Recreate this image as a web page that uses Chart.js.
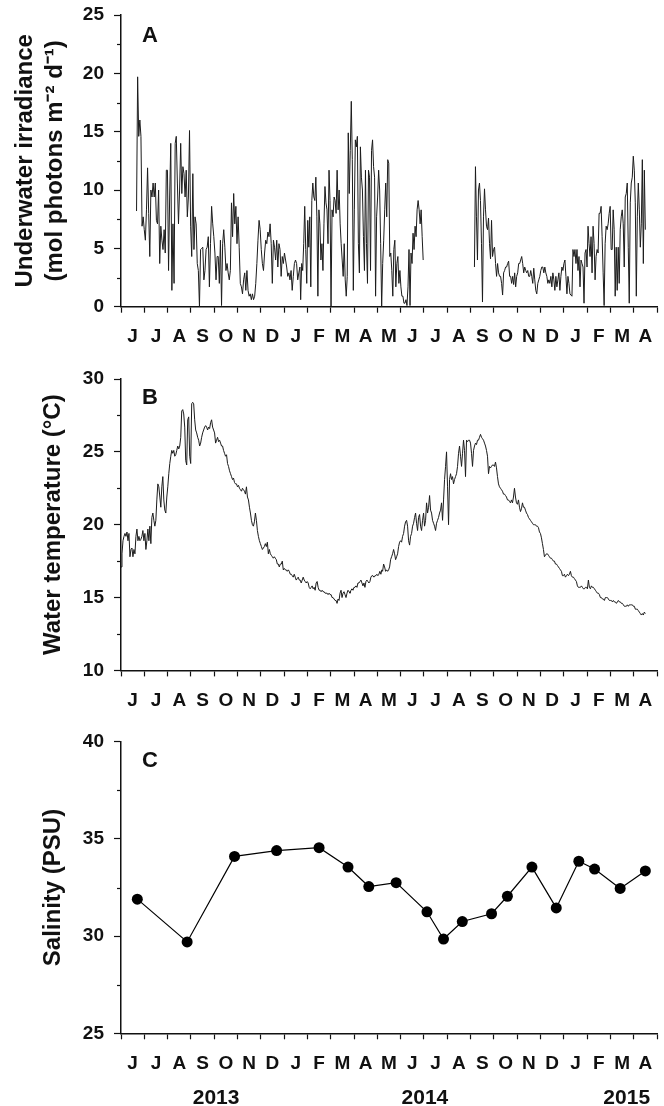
<!DOCTYPE html>
<html>
<head>
<meta charset="utf-8">
<title>Irradiance, temperature and salinity</title>
<script src="https://cdn.jsdelivr.net/npm/chart.js@4/dist/chart.umd.min.js"></script>
<style>
  body { margin: 0; background: #fff; }
  #wrap { position: relative; width: 664px; height: 1106px; }
  .panel { position: absolute; left: 0; width: 664px; }
</style>
</head>
<body>
<div id="wrap">
  <div class="panel" style="top:0;height:364px"><canvas id="chartA"></canvas></div>
  <div class="panel" style="top:364px;height:364px"><canvas id="chartB"></canvas></div>
  <div class="panel" style="top:727px;height:379px"><canvas id="chartC"></canvas></div>
</div>
<script>
// month axis: June 2013 .. April 2015
const monthLetters = ['J','J','A','S','O','N','D','J','F','M','A','M','J','J','A','S','O','N','D','J','F','M','A'];
const years = ['2013', '2014', '2015'];

// A - underwater irradiance (mol photons m-2 d-1)
const irrSpan1 = ['2013-06-21', '2014-01-22'];
const irr1 = [
  8.2, 19.7, 14.6, 16.0, 14.6, 6.9, 7.7, 6.6, 5.7, 8.3,
  11.9, 8.0, 4.3, 10.0, 9.4, 10.6, 9.4, 10.6, 7.4, 7.1,
  10.0, 3.7, 6.9, 5.7, 4.9, 6.6, 4.6, 11.7, 11.7, 3.1,
  9.4, 14.0, 1.4, 7.1, 2.0, 14.0, 14.6, 10.6, 7.1, 10.0,
  14.0, 9.7, 12.0, 11.4, 9.4, 11.7, 7.7, 9.4, 15.1, 6.9,
  4.3, 11.4, 4.9, 7.7, 7.1, 3.7, 3.1, 0, 4.9, 5.0,
  5.1, 2.3, 3.1, 4.9, 5.1, 6.0, 1.7, 5.4, 8.6, 7.1,
  6.0, 4.6, 2.3, 4.3, 4.3, 2.0, 5.7, 0.1, 5.4, 6.6,
  5.1, 3.1, 3.7, 2.9, 2.3, 3.1, 8.9, 6.0, 9.7, 7.1,
  8.6, 5.4, 7.7, 5.1, 2.0, 1.7, 1.1, 2.3, 2.9, 1.4,
  3.1, 1.4, 0.9, 1.1, 0.6, 1.1, 0.6, 0.9, 2.0, 3.7,
  5.7, 7.4, 6.6, 4.9, 3.7, 3.1, 4.6, 5.7, 5.4, 6.4,
  6.0, 7.1, 5.4, 2.0, 5.7, 5.1, 4.0, 5.7, 3.4, 5.4,
  4.9, 2.6, 4.3, 3.7, 4.6, 4.0, 3.4, 2.6, 2.9, 2.3,
  3.1, 1.4, 2.6, 3.7, 4.0, 3.7, 2.3, 2.9, 3.4
];
const irrSpan2 = ['2014-01-23', '2014-06-30'];
const irr2 = [
  0.6, 3.7, 3.1, 5.4, 8.6, 4.9, 2.0, 7.4, 5.1, 7.7,
  1.7, 9.1, 10.6, 9.4, 9.1, 11.1, 7.7, 0.9, 8.3, 7.1,
  4.0, 5.4, 3.1, 7.1, 10.3, 8.9, 8.3, 5.4, 11.7, 9.1,
  0, 8.3, 7.7, 9.4, 9.1, 8.0, 11.7, 8.3, 10.0, 7.1,
  5.4, 4.0, 2.6, 5.4, 2.3, 0.9, 2.6, 14.9, 9.7, 13.4,
  17.6, 12.6, 1.4, 8.3, 14.3, 13.7, 14.6, 5.4, 2.9, 13.7,
  11.1, 10.0, 6.0, 3.1, 11.7, 5.4, 2.0, 11.7, 11.1, 3.1,
  13.4, 14.3, 12.0, 11.1, 0.9, 7.7, 9.4, 11.7, 10.0, 5.4,
  0, 3.7, 5.7, 8.3, 10.6, 7.7, 12.6, 12.3, 4.3, 4.6,
  3.1, 0.9, 4.9, 5.7, 1.7, 3.7, 4.3, 2.0, 3.1, 1.7,
  0.9, 0.9, 0.3, 0.3, 0.6, 0.1, 1.7, 4.9, 0.1, 4.6,
  3.7, 6.3, 4.9, 6.9, 6.0, 8.3, 9.1, 8.3, 7.1, 8.3,
  6.0, 4.0
];
const irrSpan3 = ['2014-09-06', '2015-04-16'];
const irr3 = [
  3.4, 12.0, 7.7, 4.0, 10.0, 10.6,
  9.1, 5.4, 0.4, 7.7, 10.1, 8.3, 6.9, 6.6, 7.6, 5.4,
  4.1, 7.4, 4.3, 4.9, 5.1, 3.7, 2.6, 3.7, 2.9, 2.6,
  2.6, 2.0, 1.0, 2.9, 3.1, 3.4, 3.4, 3.7, 3.9, 2.6,
  2.6, 2.0, 2.6, 1.9, 2.9, 1.7, 2.6, 2.9, 3.7, 3.7,
  4.0, 4.3, 3.7, 2.9, 3.4, 3.1, 2.9, 3.1, 2.6, 2.6,
  3.1, 2.6, 2.0, 3.3, 2.3, 1.4, 1.1, 2.0, 2.3, 2.6,
  3.1, 3.4, 3.4, 2.9, 3.4, 2.9, 2.6, 2.0, 2.3, 2.0,
  2.6, 1.7, 2.9, 2.3, 1.4, 2.6, 1.7, 2.3, 2.9, 1.4,
  2.6, 3.4, 3.1, 3.7, 4.0, 2.6, 1.1, 2.6, 2.0, 1.1,
  1.0, 0.9, 4.9, 4.3, 4.9, 3.7, 4.9, 3.1, 4.3, 1.7,
  4.0, 3.7, 3.4, 0.3, 4.6, 4.9, 3.4, 6.9, 5.4, 4.3,
  6.0, 2.9, 6.9, 5.4, 2.3, 4.3, 4.9, 4.6, 8.0, 8.0,
  8.6, 6.0, 2.9, 0.1, 5.4, 6.9, 6.6, 7.1, 8.0, 8.6,
  4.9, 4.9, 8.3, 6.6, 0.9, 5.1, 1.4, 5.1, 2.0, 6.6,
  7.7, 8.3, 7.1, 3.4, 9.4, 9.7, 10.6, 5.1, 0.3, 8.9,
  10.6, 11.1, 12.9, 11.7, 8.9, 0.9, 7.7, 10.6, 8.3, 5.1,
  7.1, 12.6, 3.7, 11.7, 6.6
];

// B - water temperature (°C)
const tempSpan1 = ['2013-06-01', '2014-05-07'];
const temp1 = [
  17.1, 18.0, 18.9, 19.2, 19.4, 19.2, 19.5, 18.9, 19.4, 17.8,
  18.3, 18.4, 17.8, 18.3, 18.0, 19.2, 19.7, 18.9, 19.2, 18.9,
  19.0, 19.2, 19.6, 18.9, 19.4, 18.3, 18.9, 19.7, 18.9, 19.9,
  18.7, 20.5, 20.8, 20.3, 19.9, 20.3, 21.7, 22.8, 22.6, 21.9,
  21.2, 22.6, 23.3, 21.7, 21.0, 20.8, 21.9, 22.6, 23.5, 24.2,
  24.7, 25.1, 24.9, 25.1, 24.7, 24.8, 25.1, 25.4, 25.2, 25.4,
  26.0, 27.8, 27.9, 27.6, 26.7, 24.4, 24.1, 27.2, 27.4, 24.7,
  24.2, 28.3, 28.4, 28.3, 27.2, 26.5, 26.3, 26.0, 25.8, 25.4,
  25.6, 26.0, 26.3, 26.5, 26.7, 26.8, 26.7, 26.5, 26.7, 26.6,
  27.0, 27.2, 26.7, 26.5, 26.3, 25.6, 25.8, 26.0, 25.7, 25.8,
  25.6, 25.4, 25.4, 25.1, 24.9, 24.7, 24.8, 24.2, 24.0, 23.7,
  23.5, 23.3, 23.1, 23.2, 22.9, 22.8, 22.8, 22.6, 22.7, 22.5,
  22.4, 22.3, 22.5, 22.4, 22.3, 22.1, 22.6, 21.9, 21.7, 21.2,
  20.8, 20.3, 20.0, 19.9, 20.2, 20.8, 20.3, 19.6, 19.2, 18.9,
  18.7, 18.5, 18.3, 18.4, 18.5, 18.7, 18.5, 18.8, 18.0, 18.3,
  18.0, 17.9, 17.8, 17.7, 17.8, 17.7, 17.6, 17.3, 17.3, 17.1,
  17.3, 17.3, 17.5, 16.9, 17.0, 16.9, 16.9, 16.8, 16.9, 16.8,
  16.6, 16.6, 16.5, 16.4, 16.6, 16.4, 16.2, 16.3, 16.4, 16.2,
  16.2, 16.0, 16.2, 16.4, 16.2, 16.1, 16.0, 16.1, 16.0, 15.7,
  15.6, 15.7, 15.8, 15.6, 15.7, 15.5, 16.0, 16.1, 15.7, 15.5,
  15.5, 15.4, 15.5, 15.4, 15.4, 15.3, 15.3, 15.3, 15.2, 15.3,
  15.2, 15.2, 15.0, 15.0, 14.9, 14.8, 14.8, 14.6, 14.9, 14.8,
  15.3, 15.5, 15.0, 15.3, 15.4, 15.2, 15.0, 15.3, 15.5, 15.4,
  15.3, 15.5, 15.6, 15.5, 15.7, 15.7, 15.8, 15.7, 16.0, 16.0,
  16.1, 16.2, 16.0, 15.8, 16.0, 15.7, 16.1, 16.2, 16.1, 16.0,
  16.1, 16.4, 16.5, 16.5, 16.4, 16.5, 16.5, 16.6, 16.5, 16.6,
  16.8, 16.6, 16.9
];
const tempSpan2 = ['2014-05-08', '2015-04-16'];
const temp2 = [
  16.8, 17.3, 17.1, 16.8, 16.9, 16.8, 16.9, 17.1, 17.6, 17.8,
  18.0, 18.3, 18.0, 17.6, 17.8, 18.0, 18.5, 18.8, 18.9, 18.8,
  19.2, 19.4, 19.9, 20.2, 20.3, 19.9, 18.9, 18.6, 19.2, 19.4,
  19.9, 20.1, 20.5, 20.8, 20.1, 19.6, 20.5, 20.7, 19.9, 19.6,
  20.3, 20.8, 19.9, 20.3, 21.5, 20.8, 21.2, 22.0, 21.0, 20.8,
  20.3, 20.1, 19.9, 19.6, 20.1, 20.3, 20.5, 20.8, 21.0, 21.5,
  20.3, 21.7, 23.1, 24.0, 25.0, 22.6, 20.0, 23.1, 23.5, 23.1,
  23.3, 22.8, 23.1, 23.3, 23.5, 24.0, 24.9, 25.4, 24.7, 24.0,
  24.9, 25.8, 25.1, 23.3, 25.8, 25.7, 25.8, 25.8, 25.6, 24.9,
  24.0, 25.1, 25.4, 25.6, 25.5, 25.8, 25.8, 26.0, 26.2, 26.0,
  25.9, 25.8, 25.6, 25.4, 25.1, 24.7, 23.5, 24.0, 23.9, 24.0,
  24.1, 24.1, 24.0, 24.3, 23.9, 23.3, 22.8, 22.6, 22.5, 22.4,
  22.3, 22.1, 22.1, 22.0, 21.9, 21.7, 21.7, 21.6, 21.5, 21.7,
  21.5, 21.9, 22.5, 21.9, 21.5, 21.4, 21.7, 21.2, 20.9, 21.1,
  21.5, 21.2, 21.2, 21.0, 20.8, 20.7, 20.5, 20.4, 20.3, 20.2,
  20.1, 20.0, 20.0, 20.0, 19.9, 19.9, 19.8, 19.5, 19.4, 19.1,
  18.7, 18.3, 17.8, 17.9, 18.0, 18.0, 17.9, 17.8, 17.7, 17.7,
  17.6, 17.5, 17.5, 17.3, 17.3, 17.2, 17.1, 17.0, 16.9, 16.8,
  16.5, 16.5, 16.6, 16.4, 16.5, 16.6, 16.5, 16.6, 16.8, 16.5,
  16.4, 16.4, 16.3, 16.2, 16.1, 15.8, 15.7, 15.7, 15.7, 15.8,
  15.7, 15.6, 15.6, 15.7, 15.7, 15.6, 16.2, 15.7, 15.6, 15.8,
  15.7, 15.7, 15.6, 15.5, 15.4, 15.3, 15.3, 15.2, 15.0, 15.0,
  14.9, 14.9, 14.8, 15.0, 15.0, 15.0, 14.9, 14.8, 14.8, 14.8,
  14.7, 14.8, 14.7, 14.7, 14.6, 14.7, 14.8, 14.7, 14.7, 14.6,
  14.6, 14.5, 14.4, 14.4, 14.4, 14.5, 14.4, 14.5, 14.5, 14.5,
  14.5, 14.4, 14.4, 14.2, 14.2, 14.2, 14.1, 14.0, 13.9, 13.8,
  13.9, 13.8, 14.0, 13.9
];

// C - salinity (PSU), monthly samples
const salDates = ['2013-06-22', '2013-08-27', '2013-10-28', '2013-12-22', '2014-02-15',
  '2014-03-24', '2014-04-20', '2014-05-26', '2014-07-05', '2014-07-27', '2014-08-21',
  '2014-09-28', '2014-10-19', '2014-11-20', '2014-12-22', '2015-01-21', '2015-02-10',
  '2015-03-14', '2015-04-16'];
const salValues = [31.9, 29.7, 34.1, 34.4, 34.55, 33.55, 32.55, 32.75, 31.25, 29.85, 30.75,
  31.15, 32.05, 33.55, 31.45, 33.85, 33.45, 32.45, 33.35];

const FONT = '"Liberation Sans", Arial, Helvetica, sans-serif';
const INK = '#111';

// months since 1 June 2013 (each month the same width on the axis)
function monthPos(s) {
  const d = new Date(s + 'T00:00:00Z');
  const y = d.getUTCFullYear(), m = d.getUTCMonth();
  const dim = new Date(Date.UTC(y, m + 1, 0)).getUTCDate();
  return (y - 2013) * 12 + (m - 5) + (d.getUTCDate() - 1) / dim;
}

// samples are evenly spaced between first and last date of a span
function spread(values, span) {
  const a = monthPos(span[0]), b = monthPos(span[1]);
  return values.map((v, i) => ({ x: a + (b - a) * i / (values.length - 1), y: v }));
}

const panelLetter = {
  id: 'panelLetter',
  afterDraw(chart, args, o) {
    const ctx = chart.ctx, area = chart.chartArea;
    ctx.save();
    ctx.font = 'bold 22px ' + FONT;
    ctx.fillStyle = INK;
    ctx.textAlign = 'left';
    ctx.textBaseline = 'middle';
    ctx.fillText(o.text, area.left + 21, area.top + o.dy);
    ctx.restore();
  }
};

// short ticks half way between labelled ticks on the y axis
const minorTicks = {
  id: 'minorTicks',
  afterDraw(chart) {
    const s = chart.scales.y, ctx = chart.ctx;
    const half = s.options.ticks.stepSize / 2;
    ctx.save();
    ctx.strokeStyle = INK;
    ctx.lineWidth = 1.2;
    for (let v = s.min + half; v < s.max; v += 2 * half) {
      const py = Math.round(s.getPixelForValue(v)) + 0.5;
      ctx.beginPath();
      ctx.moveTo(s.right - 4, py);
      ctx.lineTo(s.right, py);
      ctx.stroke();
    }
    ctx.restore();
  }
};

const yearRow = {
  id: 'yearRow',
  afterDraw(chart, args, o) {
    if (!o.labels) return;
    const ctx = chart.ctx, xs = chart.scales.x;
    ctx.save();
    ctx.font = 'bold 21px ' + FONT;
    ctx.fillStyle = INK;
    ctx.textAlign = 'center';
    ctx.textBaseline = 'middle';
    o.labels.forEach((t, i) => ctx.fillText(t, xs.getPixelForValue(o.at[i]), o.y));
    ctx.restore();
  }
};

function monthAxis() {
  return {
    type: 'linear',
    min: 0,
    max: monthLetters.length,
    border: { color: INK, width: 1.5 },
    grid: {
      drawOnChartArea: false,
      tickLength: 6,
      tickWidth: 1.2,
      tickColor: c => Number.isInteger(c.tick.value) ? INK : 'rgba(0,0,0,0)'
    },
    ticks: {
      stepSize: 0.5,
      autoSkip: false,
      maxRotation: 0,
      padding: 13,
      color: INK,
      font: { family: FONT, size: 19, weight: 'bold' },
      callback: v => Number.isInteger(v) ? '' : monthLetters[Math.floor(v)]
    },
    afterFit: s => { s.height = 40; s.paddingLeft = 0; s.paddingRight = 0; }
  };
}

function panelOptions(p) {
  return {
    responsive: true,
    maintainAspectRatio: false,
    animation: false,
    layout: { padding: { left: 0, right: 7, top: p.top, bottom: p.bottom } },
    plugins: {
      legend: { display: false },
      tooltip: { enabled: false },
      panelLetter: { text: p.letter, dy: p.letterDy },
      yearRow: p.years || {}
    },
    scales: {
      x: monthAxis(),
      y: {
        min: p.min,
        max: p.max,
        border: { color: INK, width: 1.5 },
        grid: { drawOnChartArea: false, tickLength: 7, tickWidth: 1.2, tickColor: INK },
        ticks: {
          stepSize: 5,
          padding: 10,
          color: INK,
          font: { family: FONT, size: 19, weight: 'bold' }
        },
        title: {
          display: true,
          text: p.title,
          color: INK,
          font: { family: FONT, size: 24, weight: 'bold', lineHeight: 1.25 },
          padding: { top: p.titlePad, bottom: 0 }
        },
        afterFit: s => { s.width = 121; s.paddingTop = 0; s.paddingBottom = 0; }
      }
    }
  };
}

const lineStyle = { borderColor: '#1c1c1c', borderWidth: 1, pointRadius: 0, tension: 0 };

new Chart('chartA', {
  type: 'line',
  data: {
    datasets: [Object.assign({
      data: [...spread(irr1, irrSpan1), ...spread(irr2, irrSpan2),
             { x: 14, y: null }, ...spread(irr3, irrSpan3)],
      spanGaps: false
    }, lineStyle)]
  },
  options: panelOptions({
    min: 0, max: 25, top: 15, bottom: 17.3, letter: 'A', letterDy: 20.5, titlePad: 10,
    title: ['Underwater irradiance', '(mol photons m\u207B\u00B2 d\u207B\u00B9)']
  }),
  plugins: [panelLetter, minorTicks]
});

new Chart('chartB', {
  type: 'line',
  data: {
    datasets: [Object.assign({
      data: [...spread(temp1, tempSpan1), ...spread(temp2, tempSpan2)]
    }, lineStyle)]
  },
  options: panelOptions({
    min: 10, max: 30, top: 15, bottom: 17.6, letter: 'B', letterDy: 18.5, titlePad: 38,
    title: 'Water temperature (\u00B0C)'
  }),
  plugins: [panelLetter, minorTicks]
});

new Chart('chartC', {
  type: 'line',
  data: {
    datasets: [{
      data: salDates.map((d, i) => ({ x: monthPos(d), y: salValues[i] })),
      borderColor: '#000',
      borderWidth: 1.2,
      pointRadius: 5.5,
      pointBackgroundColor: '#000',
      pointBorderWidth: 0,
      tension: 0
    }]
  },
  options: panelOptions({
    min: 25, max: 40, top: 14.7, bottom: 32.7, letter: 'C', letterDy: 19.3, titlePad: 38,
    title: 'Salinity (PSU)',
    years: { labels: years, at: [4.08, 13.04, 21.7], y: 371 }
  }),
  plugins: [panelLetter, minorTicks, yearRow]
});
</script>
</body>
</html>
